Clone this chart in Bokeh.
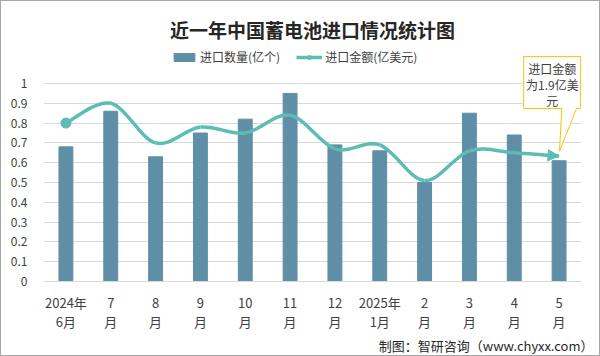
from bokeh.plotting import figure
from bokeh.models import (FixedTicker, Legend, LegendItem, Arrow, NormalHead,
                          Range1d, Title)
from bokeh.embed import file_html
from bokeh.resources import INLINE
from bokeh.core.properties import value

# ---- data ----
months = ["2024年\n6月", "7\n月", "8\n月", "9\n月", "10\n月", "11\n月", "12\n月",
          "2025年\n1月", "2\n月", "3\n月", "4\n月", "5\n月"]
qty = [0.68, 0.86, 0.63, 0.75, 0.82, 0.95, 0.69, 0.66, 0.50, 0.85, 0.74, 0.61]   # 进口数量(亿个)
amt = [2.40, 2.70, 2.10, 2.34, 2.25, 2.52, 2.01, 2.07, 1.53, 1.98, 1.95, 1.90]   # 进口金额(亿美元)
y_ticks = [0, 0.1, 0.2, 0.3, 0.4, 0.5, 0.6, 0.7, 0.8, 0.9, 1.0]
y_tick_labels = ["0", "0.1", "0.2", "0.3", "0.4", "0.5", "0.6", "0.7", "0.8", "0.9", "1"]
title_text = "近一年中国蓄电池进口情况统计图"
legend_labels = ["进口数量(亿个)", "进口金额(亿美元)"]
note_text = "进口金额\n为1.9亿美\n元"
source_text = "制图：智研咨询（www.chyxx.com）"

# ---- style ----
BAR = "#5E8FA6"
LINE = "#5BBDB4"
GRID = "#D9D9D9"
TXT = "#404040"
FONT = "Noto Sans CJK SC"
Y_END = 1.187
AMT_MAX = 3.0

x = list(range(len(months)))

p = figure(width=600, height=356, output_backend="svg", toolbar_location=None,
           x_range=Range1d(-0.5, len(months) - 0.5), y_range=Range1d(0, Y_END),
           min_border_left=42, min_border_right=20, min_border_top=45, min_border_bottom=76)
p.extra_y_ranges = {"amt": Range1d(0, AMT_MAX * Y_END)}
p.outline_line_color = None
p.background_fill_color = "white"
p.border_fill_color = "white"
p.styles = {"border": "1px solid #A6A6A6", "box-sizing": "border-box"}

p.title.text = title_text
p.title.align = "center"
p.title.text_font = FONT
p.title.text_font_size = "19px"
p.title.text_color = "#262626"
p.title.text_font_style = "bold"
p.title.standoff = 8

# axes
p.xaxis.ticker = FixedTicker(ticks=x)
p.xaxis.major_label_overrides = {i: m for i, m in enumerate(months)}
p.xaxis.major_tick_line_color = None
p.xaxis.minor_tick_line_color = None
p.xaxis.axis_line_color = GRID
p.xaxis.major_label_text_font = FONT
p.xaxis.major_label_text_font_size = "13px"
p.xaxis.major_label_text_color = TXT
p.xaxis.major_label_text_line_height = 1.02
p.xaxis.major_label_standoff = 5

p.yaxis.ticker = FixedTicker(ticks=y_ticks)
p.yaxis.major_label_overrides = {t: l for t, l in zip(y_ticks, y_tick_labels)}
p.yaxis.major_tick_line_color = None
p.yaxis.minor_tick_line_color = None
p.yaxis.axis_line_color = None
p.yaxis.major_label_text_font = FONT
p.yaxis.major_label_text_font_size = "12px"
p.yaxis.major_label_text_color = TXT
p.yaxis.major_label_standoff = 10

p.xgrid.grid_line_color = None
p.ygrid.grid_line_color = GRID
p.ygrid.ticker = FixedTicker(ticks=y_ticks)

# bars
bars = p.vbar(x=x, top=qty, width=0.31, color=BAR)

# smooth line (Catmull-Rom -> cubic bezier between the data points)
n = len(amt)
px = x
py = amt
x0, y0, x1, y1, cx0, cy0, cx1, cy1 = [], [], [], [], [], [], [], []
for i in range(n - 1):
    a = max(i - 1, 0)
    d = min(i + 2, n - 1)
    x0.append(px[i]); y0.append(py[i]); x1.append(px[i + 1]); y1.append(py[i + 1])
    cx0.append(px[i] + (px[i + 1] - px[a]) / 6.0)
    cy0.append(py[i] + (py[i + 1] - py[a]) / 6.0)
    cx1.append(px[i + 1] - (px[d] - px[i]) / 6.0)
    cy1.append(py[i + 1] - (py[d] - py[i]) / 6.0)
p.bezier(x0=x0, y0=y0, x1=x1, y1=y1, cx0=cx0, cy0=cy0, cx1=cx1, cy1=cy1,
         line_color=LINE, line_width=3.5, y_range_name="amt")
lc = p.scatter(x=[px[0]], y=[py[0]], size=10, color=LINE, y_range_name="amt")
lr = p.line(x=[px[0]], y=[py[0]], line_color=LINE, line_width=3.5, y_range_name="amt")
p.add_layout(Arrow(end=NormalHead(size=11, fill_color=LINE, line_color=LINE),
                   x_start=cx1[-1], y_start=cy1[-1], x_end=px[-1], y_end=py[-1],
                   line_alpha=0, y_range_name="amt"))

# legend
legend = Legend(items=[LegendItem(label=legend_labels[0], renderers=[bars]),
                       LegendItem(label=legend_labels[1], renderers=[lr, lc])],
                orientation="horizontal", location=(128, 216),
                glyph_width=26, glyph_height=10, label_standoff=3, spacing=16,
                padding=0, margin=0, border_line_color=None, background_fill_alpha=0,
                label_text_font=FONT, label_text_font_size="12px", label_text_color=TXT)
p.add_layout(legend)

# callout box
lx = px[-1]
ly = amt[-1] / AMT_MAX
bxl, bxr, byt, byb = lx - 0.79, lx + 0.48, 1.136, 0.874
p.patch(x=[bxl, bxr, bxr, lx + 0.39, lx + 0.01, lx + 0.06, bxl],
        y=[byt, byt, byb, byb, ly + 0.025, byb, byb],
        fill_color="white", line_color="#FFC000", line_width=1)
p.text(x=[lx - 0.15], y=[(byt + byb) / 2 - 0.01], text=[note_text], text_align="center",
       text_baseline="middle", text_font=value(FONT), text_font_size="12px",
       text_color=TXT, text_line_height=0.95)

# source
p.add_layout(Title(text=source_text, align="right", text_font=FONT, text_font_size="13px",
                   text_color="#262626", text_font_style="normal", standoff=0,
                   offset=-12, text_line_height=1.0), "below")

open("out.html", "w").write(file_html(p, INLINE))
